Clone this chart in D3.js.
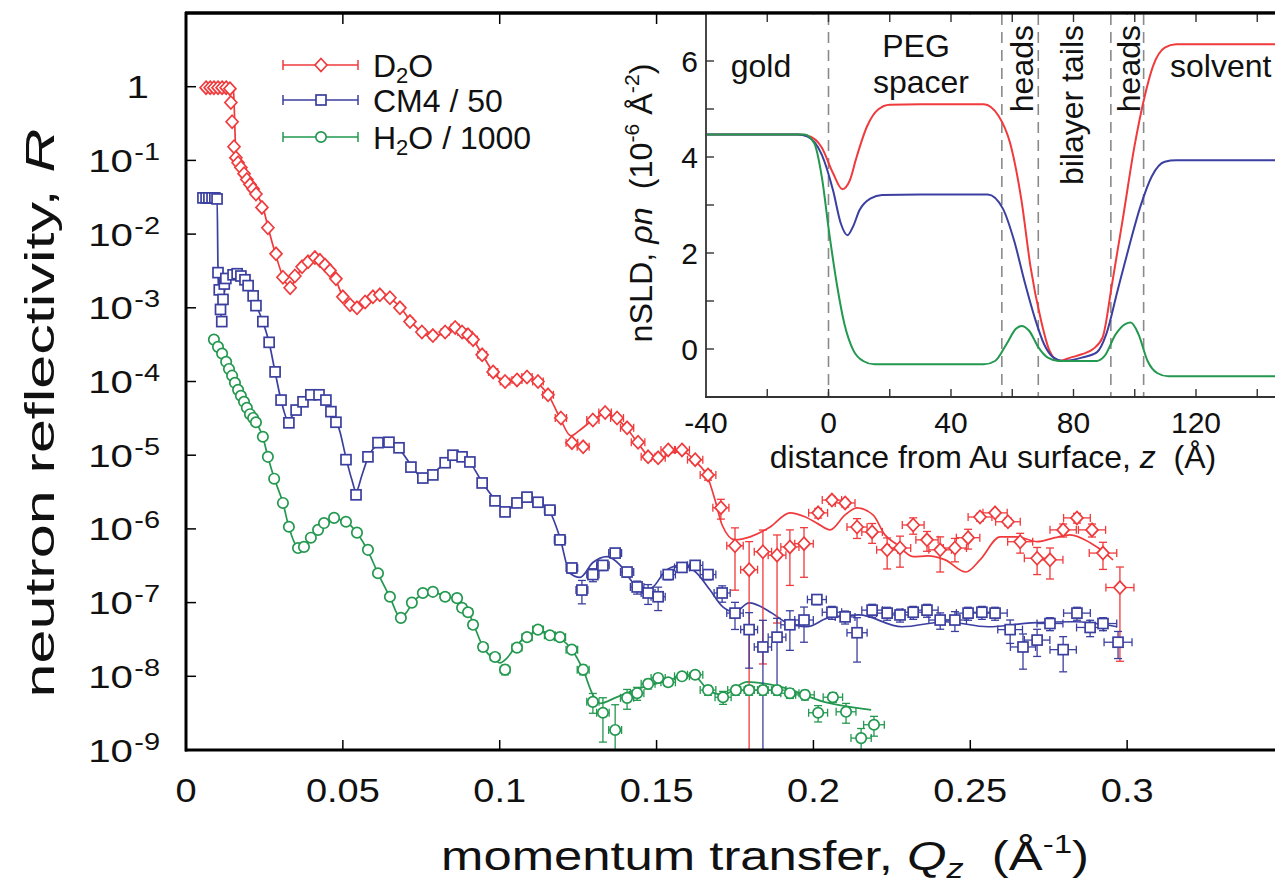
<!DOCTYPE html>
<html><head><meta charset="utf-8">
<script src="https://cdn.jsdelivr.net/npm/d3@7"></script>
<style>
html,body{margin:0;padding:0;background:#fff}
svg{display:block;font-family:"Liberation Sans",Arial,Helvetica,sans-serif}
</style>
</head><body>
<svg id="c" width="1275" height="886"></svg>
<script>
// ---------------- DATA ----------------
// D2O (measured)
const qD2O = [.0064,.0077,.0089,.0102,.0115,.0128,.0140,.0143,.0147,.0153,
.0159,.0166,.0175,.0185,.0194,.0204,.0214,.0223,.0242,.0261,
.0287,.0309,.0332,.0347,.0370,.0389,.0411,.0427,.0443,.0459,
.0478,.0500,.0523,.0545,.0571,.0596,.0618,.0650,.0682,.0714,
.0752,.0787,.0826,.0858,.0880,.0899,.0915,.0944,.0979,.1017,
.1055,.1087,.1122,.1154,.1195,.1230,.1266,.1297,.1336,.1374,
.1406,.1441,.1473,.1505,.1537,.1581,.1623,.1664,.1705,.1750,
.1795,.1839,.1884,.1925,.1970,.2015,.2059,.2101,.2139,.2187,
.2235,.2276,.2318,.2362,.2404,.2451,.2493,.2531,.2579,.2620,
.2659,.2713,.2754,.2796,.2840,.2888,.2923,.2977];
const rD2O = [.97,.97,.97,.97,.97,.97,.94,.61,.335,.153,
.109,.093,.080,.066,.055,.047,.041,.035,.023,.0122,
.0054,.0026,.00187,.0027,.0036,.0042,.0048,.0044,.0038,.0032,
.00247,.00141,.00110,.00100,.00120,.00141,.00150,.00137,.00100,.00065,
.00047,.00042,.00047,.00054,.00047,.00043,.00037,.00023,1.35e-4,1.0e-4,
1.05e-4,1.15e-4,1.0e-4,6.6e-5,3.2e-5,1.48e-5,1.3e-5,3.0e-5,3.8e-5,3.2e-5,
2.35e-5,1.5e-5,9.5e-6,9.2e-6,1.18e-5,1.18e-5,8.7e-6,5.4e-6,1.94e-6,5.9e-7,
2.8e-7,4.9e-7,4.4e-7,5.7e-7,6.3e-7,1.65e-6,2.46e-6,2.25e-6,1.06e-6,9.1e-7,
5.2e-7,5.5e-7,1.13e-6,7.1e-7,5.2e-7,5.5e-7,7.6e-7,1.45e-6,1.65e-6,1.25e-6,
6.7e-7,4.0e-7,3.8e-7,9.7e-7,1.41e-6,9.7e-7,4.7e-7,1.6e-7];
const eD2O = [.02,.02,.02,.02,.02,.02,.02,.02,.02,.02,
.02,.02,.02,.02,.02,.02,.02,.02,.03,.03,
.03,.03,.03,.03,.03,.03,.03,.03,.03,.03,
.03,.03,.03,.03,.03,.03,.03,.03,.03,.03,
.03,.03,.03,.03,.03,.03,.03,.04,.04,.04,
.04,.05,.05,.05,.06,.07,.07,.06,.06,.06,
.07,.08,.1,.1,.08,.08,.1,.15,.3,.75,
1.4,.97,.88,.7,.65,.15,.12,.12,.3,.3,
.45,.45,.25,.3,.5,.35,.3,.12,.1,.12,
.3,.4,.45,.2,.15,.2,.4,.9];
// D2O (fit)
const fqD2O = [.0061,.0150,.0153,.0156,.0159,.0191,.0223,.0245,.0261,.0284,
.0309,.0332,.0347,.0370,.0395,.0418,.0443,.0475,.0500,.0529,
.0548,.0574,.0602,.0628,.0657,.0689,.0720,.0755,.0794,.0832,
.0864,.0889,.0915,.0947,.0979,.1017,.1055,.1090,.1128,.1160,
.1192,.1227,.1256,.1297,.1336,.1374,.1409,.1447,.1479,.1511,
.1543,.1584,.1626,.1664,.1686,.1709,.1750,.1798,.1862,.1925,
.1973,.2015,.2053,.2101,.2139,.2190,.2228,.2267,.2318,.2365,
.2420,.2486,.2531,.2595,.2649,.2713,.2770,.2818,.2882,.2930,.2955];
const frD2O = [.97,.97,.67,.26,.119,.064,.036,.0235,.0126,.0056,
.00264,.00187,.0024,.0035,.00435,.00462,.00396,.00255,.00141,.00106,
.00103,.00129,.00146,.00146,.00129,.00094,.00063,4.58e-4,4.17e-4,4.88e-4,
5.36e-4,4.72e-4,3.68e-4,2.23e-4,1.35e-4,9.9e-5,1.05e-4,1.12e-4,9.0e-5,6.0e-5,
3.2e-5,1.83e-5,2.2e-5,3.0e-5,3.6e-5,3.1e-5,2.2e-5,1.34e-5,9.2e-6,8.6e-6,
1.08e-5,1.11e-5,8.1e-6,4.9e-6,2.5e-6,1.13e-6,7.1e-7,7.8e-7,1.06e-6,1.65e-6,
1.46e-6,1.17e-6,9.7e-7,1.55e-6,1.93e-6,1.55e-6,8.3e-7,6.1e-7,4.2e-7,4.3e-7,
3.8e-7,2.6e-7,3.8e-7,7.8e-7,7.8e-7,6.7e-7,7.6e-7,8.3e-7,6.5e-7,4.7e-7,3.8e-7];

// CM4 / 50 (measured)
const qCM4 = [.0054,.0064,.0073,.0083,.0092,.0099,
.0102,.0106,.0110,.0114,.0118,.0122,.0127,
.0150,.0163,.0175,.0188,.0198,.0214,.0223,.0245,.0265,.0284,.0303,.0328,
.0351,.0373,.0398,.0424,.0446,.0462,.0478,.0510,.0542,
.0580,.0612,.0647,.0679,.0717,.0755,.0787,.0826,.0851,.0880,.0905,.0944,.0985,.1017,
.1055,.1087,.1122,.1160,.1192,.1230,.1262,.1297,.1329,.1368,.1406,.1438,.1473,.1505,.1537,.1581,.1623,.1664,.1709,.1750,
.1795,.1839,.1884,.1925,.1970,.2011,.2059,.2101,.2139,.2187,.2235,.2276,.2318,.2362,.2404,.2451,.2493,.2537,.2579,.2627,.2668,.2713,.2754,.2796,.2840,.2882,.2923,.2971];
const rCM4 = [.031,.031,.031,.031,.031,.030,
3.0e-3,1.75e-3,9.5e-4,6.5e-4,1.3e-3,2.1e-3,2.5e-3,
2.8e-3,2.9e-3,2.7e-3,2.4e-3,2.0e-3,1.45e-3,1.07e-3,6.5e-4,3.4e-4,1.35e-4,5.6e-5,2.75e-5,
4.1e-5,5.3e-5,6.6e-5,6.6e-5,5.6e-5,3.9e-5,2.8e-5,8.7e-6,2.9e-6,
9.5e-6,1.48e-5,1.5e-5,1.26e-5,6.9e-6,4.9e-6,5.4e-6,7.9e-6,1.0e-5,9.5e-6,8.1e-6,4.2e-6,2.4e-6,1.7e-6,
2.25e-6,2.7e-6,2.3e-6,1.8e-6,7.1e-7,2.95e-7,1.48e-7,2.4e-7,3.2e-7,4.7e-7,2.6e-7,1.63e-7,1.35e-7,1.2e-7,2.4e-7,3.0e-7,3.2e-7,2.4e-7,1.35e-7,7.2e-8,
4.3e-8,2.5e-8,3.4e-8,5.0e-8,5.8e-8,1.1e-7,7.4e-8,6.4e-8,3.9e-8,7.9e-8,7.2e-8,6.8e-8,7.4e-8,7.9e-8,5.8e-8,5.8e-8,7.2e-8,7.4e-8,7.2e-8,4.3e-8,2.5e-8,3.1e-8,5.2e-8,2.3e-8,7.2e-8,4.6e-8,5.2e-8,2.9e-8];
const eCM4 = [.02,.02,.02,.02,.02,.02,
.03,.03,.03,.03,.03,.03,.03,
.03,.03,.03,.03,.03,.03,.03,.03,.03,.03,.03,.03,
.04,.04,.04,.04,.04,.04,.05,.06,.1,
.06,.05,.05,.05,.06,.07,.07,.06,.06,.06,.07,.08,.1,.1,
.1,.1,.1,.1,.12,.15,.35,.2,.15,.12,.15,.2,.3,.35,.15,.12,.12,.15,.25,.4,
.7,1.3,.8,.55,.5,.15,.2,.2,.6,.2,.2,.2,.2,.2,.25,.3,.2,.2,.2,.35,.5,.4,.2,.5,.2,.25,.2,.4];
// CM4 / 50 (fit)
const fqCM4 = [.0054,.0099,.0102,.0105,.0112,.0118,.0128,.0150,.0175,.0198,
.0223,.0245,.0265,.0284,.0303,.0325,.0351,.0373,.0398,.0424,
.0446,.0469,.0491,.0510,.0529,.0542,.0561,.0580,.0612,.0647,
.0679,.0717,.0755,.0791,.0826,.0851,.0880,.0905,.0944,.0985,
.1017,.1049,.1087,.1122,.1160,.1192,.1224,.1256,.1297,.1342,
.1383,.1425,.1457,.1489,.1533,.1584,.1629,.1670,.1712,.1750,
.1795,.1868,.1909,.1980,.2047,.2145,.2282,.2420,.2557,.2694,.2831,.2968];
const frCM4 = [.031,.031,.0033,.00128,.00078,.00128,.00205,.00272,.00248,.00193,
.0011,6.46e-4,3.35e-4,1.35e-4,5.6e-5,3.0e-5,4.1e-5,5.3e-5,6.4e-5,6.4e-5,
5.5e-5,3.8e-5,2.07e-5,9.2e-6,4.6e-6,3.2e-6,5.4e-6,9.2e-6,1.38e-5,1.47e-5,
1.22e-5,7.4e-6,4.9e-6,5.9e-6,7.9e-6,9.5e-6,9.2e-6,7.9e-6,4.3e-6,2.5e-6,
1.81e-6,2.1e-6,2.55e-6,2.3e-6,1.7e-6,7.6e-7,2.5e-7,2.2e-7,3.5e-7,4.2e-7,
3.25e-7,1.85e-7,1.4e-7,1.63e-7,2.8e-7,3.25e-7,2.5e-7,1.49e-7,8.7e-8,7.5e-8,
9.9e-8,7.2e-8,5.5e-8,4.7e-8,6.2e-8,6.8e-8,4.7e-8,5.5e-8,4.7e-8,5.3e-8,5.5e-8,4.7e-8];

// H2O / 1000 (measured)
const qH2O = [.0089,.0102,.0115,.0128,.0137,.0147,.0156,.0166,.0175,.0185,.0194,.0204,.0214,.0223,
.0245,.0261,.0281,.0309,.0328,.0357,.0376,.0398,.0421,.0440,.0472,.0510,.0545,.0580,.0612,.0650,.0685,
.0720,.0755,.0787,.0826,.0864,.0880,.0899,.0915,.0947,.0985,.1017,
.1055,.1087,.1122,.1160,.1192,.1230,.1266,.1297,.1329,.1368,
.1406,.1438,.1473,.1505,.1537,.1581,.1623,.1664,.1712,.1753,
.1795,.1839,.1884,.1925,.1973,.2015,.2062,.2104,.2152,.2193];
const rH2O = [3.7e-4,2.95e-4,2.4e-4,1.85e-4,1.48e-4,1.2e-4,9.6e-5,7.7e-5,6.4e-5,5.3e-5,4.4e-5,3.6e-5,3.2e-5,2.8e-5,
1.78e-5,9.5e-6,4.8e-6,2.25e-6,1.07e-6,5.5e-7,5.7e-7,7.6e-7,9.7e-7,1.2e-6,1.41e-6,1.25e-6,8.9e-7,5.2e-7,2.5e-7,1.2e-7,6.2e-8,
1.0e-7,1.35e-7,1.4e-7,1.2e-7,1.15e-7,8.5e-8,7.4e-8,5.0e-8,2.5e-8,1.83e-8,1.23e-8,
2.45e-8,3.4e-8,4.3e-8,3.6e-8,3.4e-8,2.3e-8,1.23e-8,4.5e-9,3.2e-9,1.87e-9,
5.1e-9,5.9e-9,7.9e-9,9.5e-9,8.3e-9,1.0e-8,1.05e-8,6.5e-9,5.2e-9,6.5e-9,
6.5e-9,6.5e-9,6.5e-9,5.9e-9,5.6e-9,3.2e-9,5.2e-9,3.3e-9,1.45e-9,2.2e-9];
const eH2O = [.02,.02,.02,.02,.02,.02,.02,.02,.02,.02,.02,.02,.02,.02,
.03,.03,.03,.03,.03,.03,.03,.03,.03,.03,.03,.03,.03,.03,.03,.04,.05,
.05,.05,.05,.05,.05,.06,.06,.07,.1,.1,.15,
.1,.08,.08,.08,.08,.1,.15,.3,.6,1.2,
.3,.2,.15,.12,.12,.1,.1,.15,.2,.15,
.15,.15,.15,.15,.15,.25,.15,.3,.35,.3];
// H2O / 1000 (fit)
const fqH2O = [.0083,.0140,.0188,.0223,.0245,.0261,.0281,.0309,.0328,.0351,
.0376,.0398,.0421,.0440,.0472,.0510,.0545,.0580,.0612,.0650,
.0682,.0701,.0720,.0755,.0787,.0822,.0861,.0899,.0915,.0947,
.0985,.1001,.1023,.1055,.1087,.1122,.1160,.1192,.1230,.1266,
.1297,.1320,.1368,.1403,.1470,.1543,.1581,.1623,.1664,.1712,
.1788,.1897,.2034,.2184];
const frH2O = [3.7e-4,1.23e-4,5.6e-5,2.84e-5,1.77e-5,9.5e-6,4.9e-6,2.25e-6,1.06e-6,6.1e-7,
5.7e-7,7.3e-7,9.4e-7,1.13e-6,1.37e-6,1.25e-6,8.8e-7,5.0e-7,2.5e-7,1.19e-7,
6.4e-8,7.2e-8,9.6e-8,1.31e-7,1.4e-7,1.23e-7,1.12e-7,7.7e-8,5.3e-8,2.5e-8,
1.67e-8,1.52e-8,1.77e-8,2.67e-8,3.5e-8,4.1e-8,3.8e-8,3.3e-8,2.3e-8,1.22e-8,
5.6e-9,4.3e-9,5.1e-9,5.9e-9,7.4e-9,8.9e-9,1.01e-8,9.8e-9,6.5e-9,5.6e-9,
8.4e-9,7.2e-9,4.5e-9,3.5e-9];

// Inset: nSLD profiles
const zD2O = [-40,-10,-7,-2.2,1.5,4.5,7,8.9,12.6,16.2,20,30,50.7,55.6,59.3,63,66,69.2,72.2,75.3,79,82.7,86.4,89.5,92.6,96.2,99.9,103,106,109.8,113.5,160];
const sD2O = [4.47,4.47,4.45,4.2,3.66,3.33,3.52,3.94,4.64,4.99,5.09,5.1,5.1,4.85,4.29,3.10,1.70,0.65,-0.04,-0.25,-0.18,-0.11,0,0.24,1.36,2.75,4.22,5.2,5.90,6.28,6.35,6.35];
const zCM4 = [-40,-10,-7,-2.2,1.5,4,6.2,8,10.1,13.8,17.5,30,52,56.9,60.6,64.2,67.3,70.4,73.5,76.6,82.7,87.6,90.7,94.4,98.1,101.8,105.5,109.8,113.5,160];
const sCM4 = [4.47,4.47,4.43,4.05,3.3,2.62,2.37,2.55,2.89,3.14,3.21,3.22,3.22,2.93,2.26,1.36,0.66,0.10,-0.18,-0.25,-0.18,-0.07,0.31,1.22,2.12,2.96,3.59,3.90,3.93,3.93];
const zH2O = [-40,-8,-4.7,-2.2,0.25,2.7,5.2,8.2,11.3,15,50.7,54.4,58.1,61.2,63,65.5,68.6,71.6,75.3,87.6,90.1,93.8,96.9,98.7,101.2,104.2,107.3,111,160];
const sH2O = [4.47,4.47,4.29,3.59,2.41,1.36,0.52,-0.04,-0.25,-0.32,-0.32,-0.25,0.10,0.42,0.48,0.38,0.03,-0.18,-0.25,-0.25,-0.15,0.31,0.52,0.55,0.31,-0.25,-0.50,-0.57,-0.57];

const boundaries = [0, 56.6, 68.5, 92.2, 102.9];
const xTicks = [0, 0.05, 0.1, 0.15, 0.2, 0.25, 0.3];
const xTickLabels = ["0","0.05","0.1","0.15","0.2","0.25","0.3"];
const yTicks = [1, 1e-1, 1e-2, 1e-3, 1e-4, 1e-5, 1e-6, 1e-7, 1e-8, 1e-9];
const yTickExp = ["0","-1","-2","-3","-4","-5","-6","-7","-8","-9"];
const zTicks = [-40, 0, 40, 80, 120];
const zMinor = [-20, 0, 20, 40, 60, 80, 100, 120, 140];
const rhoTicks = [0, 2, 4, 6];
const rhoMinor = [0, 1, 2, 3, 4, 5, 6];
const seriesNames = ["D2O", "CM4 / 50", "H2O / 1000"];

// ---------------- DRAWING ----------------
const RED = "#f03a3c", BLUE = "#3b3f9f", GREEN = "#23984f";
const svg = d3.select("#c");

const x = d3.scaleLinear().domain([0, 0.35]).range([186, 1284]);
const y = d3.scaleLog().domain([1e-9, 10]).range([750, 13]);
const xi = d3.scaleLinear().domain([-40, 160]).range([706, 1318.5]);
const yi = d3.scaleLinear().domain([-1, 7]).range([397, 13]);

svg.append("rect").attr("width",1275).attr("height",886).attr("fill","#fff");

const defs = svg.append("defs");
defs.append("clipPath").attr("id","cm").append("rect").attr("x",187).attr("y",14).attr("width",1100).attr("height",735);
defs.append("clipPath").attr("id","ci").append("rect").attr("x",707).attr("y",14).attr("width",600).attr("height",382);

const series = [
  {q:qD2O, r:rD2O, e:eD2O, fq:fqD2O, fr:frD2O, c:RED, m:"diamond"},
  {q:qCM4, r:rCM4, e:eCM4, fq:fqCM4, fr:frCM4, c:BLUE, m:"square"},
  {q:qH2O, r:rH2O, e:eH2O, fq:fqH2O, fr:frH2O, c:GREEN, m:"circle"}
];

function marker(g, type, cx, cy, color) {
  if (type === "diamond") {
    g.append("path").attr("d", d3.line()([[cx,cy-6.5],[cx+6,cy],[cx,cy+6.5],[cx-6,cy]]) + "Z")
      .attr("fill","#fff").attr("stroke",color).attr("stroke-width",1.7);
  } else if (type === "square") {
    g.append("rect").attr("x",cx-5).attr("y",cy-5).attr("width",10).attr("height",10)
      .attr("fill","#fff").attr("stroke",color).attr("stroke-width",1.7);
  } else {
    g.append("circle").attr("cx",cx).attr("cy",cy).attr("r",5.2)
      .attr("fill","#fff").attr("stroke",color).attr("stroke-width",1.7);
  }
}

const plot = svg.append("g").attr("clip-path","url(#cm)");
const fitLine = d3.line().x(d=>x(d[0])).y(d=>y(d[1])).curve(d3.curveMonotoneX);

series.forEach(s => {
  const pts = s.fq.map((q,i)=>[q, s.fr[i]]);
  plot.append("path").attr("d", fitLine(pts)).attr("fill","none").attr("stroke",s.c).attr("stroke-width",1.7);
});
series.forEach(s => {
  const g = plot.append("g").attr("stroke", s.c).attr("stroke-width",1.3).attr("fill","none");
  s.q.forEach((q,i) => {
    const R = s.r[i], e = s.e[i];
    const cx = x(q), cy = y(R);
    const yTop = y(R*(1+e));
    const lo = R*(1-e);
    const yBot = lo > 0 ? y(lo) : 770;
    g.append("line").attr("x1",cx).attr("x2",cx).attr("y1",yTop).attr("y2",yBot);
    g.append("line").attr("x1",cx-4).attr("x2",cx+4).attr("y1",yTop).attr("y2",yTop);
    if (lo > 0) g.append("line").attr("x1",cx-4).attr("x2",cx+4).attr("y1",yBot).attr("y2",yBot);
    const xl = x(q*0.985), xr = x(q*1.015);
    g.append("line").attr("x1",xl).attr("x2",xr).attr("y1",cy).attr("y2",cy);
    g.append("line").attr("x1",xl).attr("x2",xl).attr("y1",cy-4).attr("y2",cy+4);
    g.append("line").attr("x1",xr).attr("x2",xr).attr("y1",cy-4).attr("y2",cy+4);
  });
});
series.forEach(s => {
  const g = plot.append("g");
  s.q.forEach((q,i) => marker(g, s.m, x(q), y(s.r[i]), s.c));
});

// main axes frame
const ax = svg.append("g").attr("stroke","#000");
ax.append("line").attr("x1",186).attr("x2",186).attr("y1",12).attr("y2",751.5).attr("stroke-width",3);
ax.append("line").attr("x1",185).attr("x2",1275).attr("y1",13).attr("y2",13).attr("stroke-width",3);
ax.append("line").attr("x1",185).attr("x2",1275).attr("y1",750).attr("y2",750).attr("stroke-width",3);
yTicks.forEach(v => ax.append("line").attr("x1",186).attr("x2",196).attr("y1",y(v)).attr("y2",y(v)).attr("stroke-width",1.5));
xTicks.forEach(v => {
  ax.append("line").attr("x1",x(v)).attr("x2",x(v)).attr("y1",750).attr("y2",740).attr("stroke-width",1.5);
  ax.append("line").attr("x1",x(v)).attr("x2",x(v)).attr("y1",13).attr("y2",24).attr("stroke-width",1.5);
});

// main tick labels
yTicks.forEach((v,i) => {
  const g = svg.append("g").attr("transform",`translate(${i===0?149:160},${y(v)+11.5})`);
  const t = g.append("text").attr("text-anchor","end").attr("font-size",32).attr("fill","#111")
    .attr("transform","scale(1.26,1)");
  if (i === 0) { t.text("1"); }
  else {
    t.append("tspan").text("10");
    t.append("tspan").attr("font-size",23).attr("dx",1).attr("dy",-12).text(yTickExp[i]);
  }
});
xTicks.forEach((v,i) => {
  svg.append("g").attr("transform",`translate(${x(v)},802)`)
    .append("text").attr("text-anchor","middle").attr("font-size",33).attr("fill","#111")
    .attr("transform","scale(1.15,1)").text(xTickLabels[i]);
});

function stretch(t, target) {
  const w = t.node().getBBox().width;
  t.attr("transform", `scale(${target/w},1)`);
}

// x title
{
  const g = svg.append("g").attr("transform","translate(765,870)");
  const t = g.append("text").attr("text-anchor","middle").attr("font-size",40).attr("fill","#111");
  t.append("tspan").text("momentum transfer, ");
  t.append("tspan").attr("font-style","italic").text("Q");
  t.append("tspan").attr("font-style","italic").attr("font-size",27).attr("dy",8).text("z");
  t.append("tspan").attr("dy",-8).text("\u00A0\u00A0(Å");
  t.append("tspan").attr("font-size",26).attr("dy",-17).text("-1");
  t.append("tspan").attr("dy",17).text(")");
  stretch(t, 648);
}
// y title
{
  const g = svg.append("g").attr("transform","translate(54,413) rotate(-90)");
  const t = g.append("text").attr("text-anchor","middle").attr("font-size",40).attr("fill","#111");
  t.append("tspan").text("neutron reflectivity, ");
  t.append("tspan").attr("font-style","italic").text("R");
  stretch(t, 569);
}

// legend
const legY = [65, 100, 137];
series.forEach((s,i) => {
  const g = svg.append("g").attr("stroke",s.c).attr("stroke-width",1.5);
  g.append("line").attr("x1",283).attr("x2",358).attr("y1",legY[i]).attr("y2",legY[i]);
  g.append("line").attr("x1",283).attr("x2",283).attr("y1",legY[i]-5).attr("y2",legY[i]+5);
  g.append("line").attr("x1",358).attr("x2",358).attr("y1",legY[i]-5).attr("y2",legY[i]+5);
  marker(svg.append("g"), s.m, 321, legY[i], s.c);
});
{
  const f = 32;
  const t0 = svg.append("text").attr("x",373).attr("y",77).attr("font-size",f).attr("fill","#111");
  t0.append("tspan").text("D");
  t0.append("tspan").attr("font-size",22).attr("dy",6).text("2");
  t0.append("tspan").attr("dy",-6).text("O");
  svg.append("text").attr("x",373).attr("y",112).attr("font-size",f).attr("fill","#111").text(seriesNames[1]);
  const t2 = svg.append("text").attr("x",373).attr("y",149).attr("font-size",f).attr("fill","#111");
  t2.append("tspan").text("H");
  t2.append("tspan").attr("font-size",22).attr("dy",6).text("2");
  t2.append("tspan").attr("dy",-6).text("O / 1000");
}

// ---------------- INSET ----------------
svg.append("rect").attr("x",707).attr("y",14.5).attr("width",570).attr("height",382).attr("fill","#fff");
const inset = svg.append("g");
const ic = inset.append("g").attr("clip-path","url(#ci)");
boundaries.forEach(z => ic.append("line").attr("x1",xi(z)).attr("x2",xi(z)).attr("y1",14).attr("y2",397)
  .attr("stroke","#8a8a8a").attr("stroke-width",1.6).attr("stroke-dasharray","11,7"));
const iline = d3.line().x(d=>xi(d[0])).y(d=>yi(d[1])).curve(d3.curveMonotoneX);
[[zD2O,sD2O,RED],[zCM4,sCM4,BLUE],[zH2O,sH2O,GREEN]].forEach(([zz,ss,c]) => {
  ic.append("path").attr("d", iline(zz.map((z,i)=>[z,ss[i]]))).attr("fill","none").attr("stroke",c).attr("stroke-width",2);
});
const ia = inset.append("g").attr("stroke","#333");
ia.append("line").attr("x1",706).attr("x2",706).attr("y1",13).attr("y2",397.8).attr("stroke-width",1.8);
ia.append("line").attr("x1",705).attr("x2",1275).attr("y1",397).attr("y2",397).attr("stroke-width",1.8);
zMinor.forEach(z => {
  ia.append("line").attr("x1",xi(z)).attr("x2",xi(z)).attr("y1",397).attr("y2",389).attr("stroke-width",1.4);
  ia.append("line").attr("x1",xi(z)).attr("x2",xi(z)).attr("y1",14).attr("y2",22).attr("stroke-width",1.4);
});
rhoMinor.forEach(r => ia.append("line").attr("x1",706).attr("x2",714).attr("y1",yi(r)).attr("y2",yi(r)).attr("stroke-width",1.4));
// redraw main top border over inset
svg.append("line").attr("x1",185).attr("x2",1275).attr("y1",13).attr("y2",13).attr("stroke","#000").attr("stroke-width",3);

zTicks.forEach(z => inset.append("text").attr("x",xi(z)).attr("y",433).attr("text-anchor","middle")
  .attr("font-size",30).attr("fill","#111").text(z));
rhoTicks.forEach(r => inset.append("text").attr("x",698).attr("y",yi(r)+10.5).attr("text-anchor","end")
  .attr("font-size",30).attr("fill","#111").text(r));

{
  const t = inset.append("text").attr("x",993).attr("y",468).attr("text-anchor","middle").attr("font-size",32).attr("fill","#111");
  t.append("tspan").text("distance from Au surface, ");
  t.append("tspan").attr("font-style","italic").text("z");
  t.append("tspan").text("\u00A0\u00A0(Å)");
}
{
  const g = inset.append("g").attr("transform","translate(652,203) rotate(-90)");
  const t = g.append("text").attr("text-anchor","middle").attr("font-size",32).attr("fill","#111");
  t.append("tspan").text("nSLD, ");
  t.append("tspan").attr("font-style","italic").text("ρn");
  t.append("tspan").text("\u00A0\u00A0(10");
  t.append("tspan").attr("font-size",21).attr("dy",-13).text("-6");
  t.append("tspan").attr("dy",13).text(" Å");
  t.append("tspan").attr("font-size",21).attr("dy",-13).text("-2");
  t.append("tspan").attr("dy",13).text(")");
  stretch(t, 279);
}
// region labels
const lab = inset.append("g").attr("font-size",32).attr("fill","#111");
lab.append("text").attr("x",761).attr("y",77).attr("text-anchor","middle").text("gold");
lab.append("text").attr("x",916).attr("y",57).attr("text-anchor","middle").text("PEG");
lab.append("text").attr("x",921).attr("y",93).attr("text-anchor","middle").text("spacer");
lab.append("text").attr("x",1170).attr("y",77).text("solvent");
[["heads",1033],["bilayer tails",1083],["heads",1140]].forEach(([s,bx]) => {
  lab.append("text").attr("transform",`translate(${bx},25) rotate(-90)`).attr("text-anchor","end").text(s);
});
</script>
</body></html>
